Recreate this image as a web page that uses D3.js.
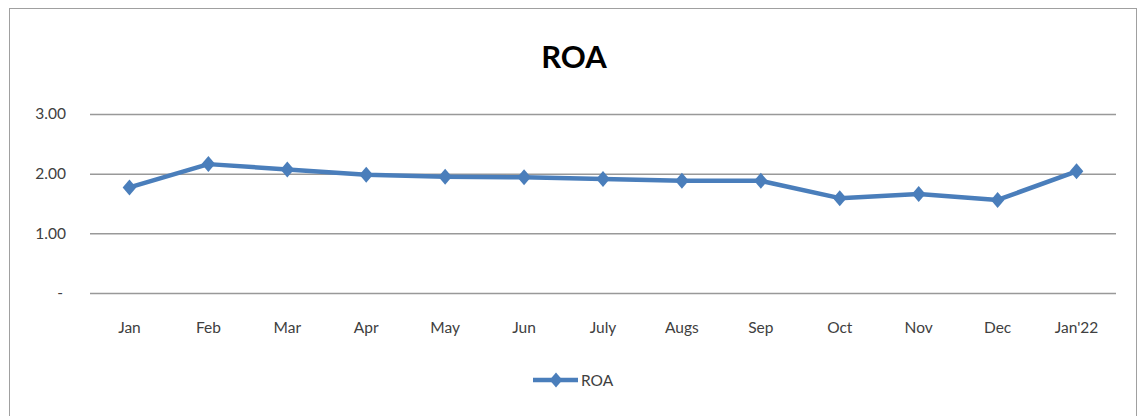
<!DOCTYPE html>
<html><head><meta charset="utf-8">
<script src="https://cdn.jsdelivr.net/npm/d3@7"></script>
<style>html,body{margin:0;padding:0;background:#fff;}</style>
</head><body>
<svg id="chart" width="1144" height="416"></svg>
<script>
const categories = ["Jan","Feb","Mar","Apr","May","Jun","July","Augs","Sep","Oct","Nov","Dec","Jan'22"];
const roaValues = [1.77,2.16,2.07,1.98,1.95,1.94,1.91,1.88,1.88,1.59,1.66,1.56,2.04];
const yTicks = [0,1,2,3];
const seriesName = "ROA";
const titleText = "ROA";

const svg = d3.select("#chart");
const font = "Lato, 'Open Sans', sans-serif";
const color = "#4a7ebb";

svg.append("rect").attr("x",9.5).attr("y",8.5).attr("width",1127).attr("height",420)
  .attr("fill","#fff").attr("stroke","#a0a0a0").attr("stroke-width",1);

const x = d3.scaleBand().domain(categories).range([90,1116]);
const y = d3.scaleLinear().domain([0,3]).range([293,114]);

svg.append("text").attr("x",574).attr("y",68).attr("text-anchor","middle")
  .attr("font-family",font).attr("font-weight","bold").attr("font-size",31).attr("fill","#000").text(titleText);

const yAxis = d3.axisLeft(y).tickValues(yTicks).tickSize(-(1116-90))
  .tickFormat(d => d===0 ? "-" : d3.format(".2f")(d));
const gy = svg.append("g").attr("transform","translate(90,0)").call(yAxis);
gy.select(".domain").remove();
gy.selectAll(".tick line").attr("stroke","#999").attr("stroke-width",1.5);
gy.selectAll(".tick text").attr("x",-24).attr("font-family",font).attr("font-size",15.5).attr("fill","#404040");
gy.selectAll(".tick text").filter(d=>d===0).attr("x",-27);

const xAxis = d3.axisBottom(x).tickSize(0).tickPadding(0);
const gx = svg.append("g").attr("transform","translate(0,293)").call(xAxis);
gx.select(".domain").remove();
gx.selectAll(".tick text").attr("dy",0).attr("y",40).attr("font-family",font).attr("font-size",15.5).attr("fill","#404040");

const cx = d => x(d) + x.bandwidth()/2;
const line = d3.line().x((d,i)=>cx(categories[i])).y(d=>y(d));
svg.append("path").datum(roaValues).attr("d",line).attr("fill","none")
  .attr("stroke",color).attr("stroke-width",4.5).attr("stroke-linejoin","round");

const diamond = (px,py,s) => `M${px},${py-s}L${px+s*0.85},${py}L${px},${py+s}L${px-s*0.85},${py}Z`;
svg.selectAll(".pt").data(roaValues).enter().append("path").attr("class","pt")
  .attr("d",(d,i)=>diamond(cx(categories[i]),y(d),8)).attr("fill",color);

// legend
const lg = svg.append("g");
lg.append("line").attr("x1",533).attr("x2",578).attr("y1",380).attr("y2",380).attr("stroke",color).attr("stroke-width",4.5);
lg.append("path").attr("d",diamond(556,380,7.5)).attr("fill",color);
lg.append("text").attr("x",581).attr("y",386).attr("font-family",font).attr("font-size",15.5).attr("fill","#404040").text(seriesName);
</script>
</body></html>
